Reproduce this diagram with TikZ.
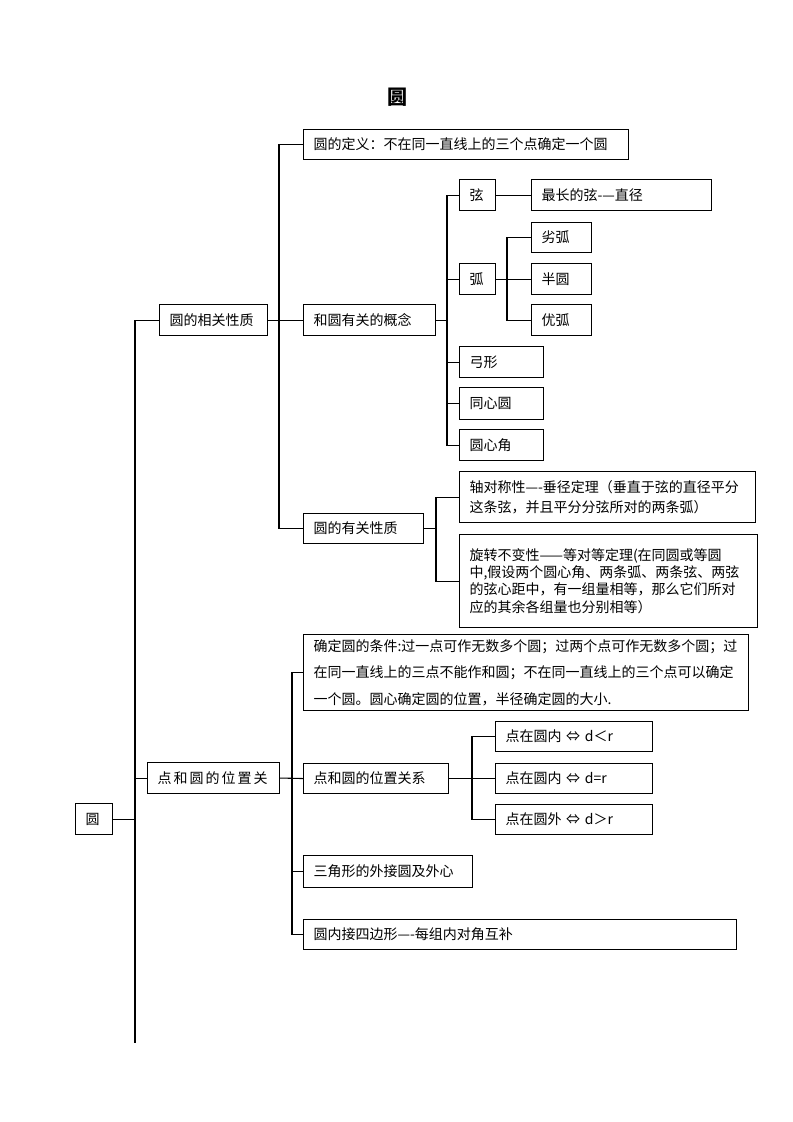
\documentclass[tikz,border=0pt]{standalone}
\usepackage{fontspec}
\newfontfamily\cjk{Noto Sans CJK SC}
\usepackage{tikz}

\begin{document}
\begin{tikzpicture}[x=0.75pt,y=-0.75pt,line width=0.8pt,
  box/.style 2 args = {draw, anchor=north west, text width=#1*0.75pt-15pt, minimum height=#2*0.75pt, inner xsep=7.5pt, inner ysep=0pt, align=left, font=\cjk\fontsize{10.5}{15}\selectfont}]
\useasboundingbox (0,0) rectangle (793,1122);
\node (t) at (397,97) {\cjk\fontsize{15}{18}\selectfont\bfseries 圆};
\node[box={37}{31}] (1) at (75,803) {圆};
\node[box={108}{31}] (2) at (159,304) {圆的相关性质};
\node[box={325}{30}] (3) at (303,129) {圆的定义：不在同一直线上的三个点确定一个圆};
\node[box={132}{31}] (4) at (303,304) {和圆有关的概念};
\node[box={36}{31}] (5) at (459,179) {弦};
\node[box={180}{31}] (6) at (531,179) {最长的弦-—直径};
\node[box={36}{31}] (7) at (459,263) {弧};
\node[box={60}{30}] (8) at (531,222) {劣弧};
\node[box={60}{31}] (9) at (531,263) {半圆};
\node[box={60}{31}] (10) at (531,304) {优弧};
\node[box={84}{31}] (11) at (459,346) {弓形};
\node[box={84}{32}] (12) at (459,387) {同心圆};
\node[box={84}{31}] (13) at (459,429) {圆心角};
\node[box={120}{30}] (14) at (303,513) {圆的有关性质};
\node[box={296}{51}] (15) at (459,471) {轴对称性—-垂径定理（垂直于弦的直径平分\\这条弦，并且平分分弦所对的两条弧）};
\node[box={298}{93}, font=\cjk\fontsize{10.5}{13}\selectfont] (16) at (459,534) {旋转不变性——等对等定理(在同圆或等圆\\中,假设两个圆心角、两条弧、两条弦、两弦\\的弦心距中，有一组量相等，那么它们所对\\应的其余各组量也分别相等）};
\node[box={132}{31}] (17) at (147,762) {点\hspace{1.5pt}和\hspace{1.5pt}圆\hspace{1.5pt}的\hspace{1.5pt}位\hspace{1.5pt}置\hspace{1.5pt}关};
\node[box={445}{76}, font=\cjk\fontsize{10.5}{20}\selectfont] (18) at (303,634) {确定圆的条件:过一点可作无数多个圆；过两个点可作无数多个圆；过\\在同一直线上的三点不能作和圆；不在同一直线上的三个点可以确定\\一个圆。圆心确定圆的位置，半径确定圆的大小.};
\node[box={145}{30}] (19) at (303,763) {点和圆的位置关系};
\node[box={157}{30}] (20) at (495,721) {点在圆内~⇔~d＜r};
\node[box={157}{30}] (21) at (495,763) {点在圆内~⇔~d=r};
\node[box={157}{30}] (22) at (495,804) {点在圆外~⇔~d＞r};
\node[box={169}{32}] (23) at (303,855) {三角形的外接圆及外心};
\node[box={433}{30}] (24) at (303,919) {圆内接四边形—-每组内对角互补};
\coordinate (e) at (135,1043);
\draw (1.east) -- (1.east -| e);
\draw (2.west) -| (e);
\draw (17.west) -- (17.west -| e);
\draw (2.east) -- (4.west);
\draw (3.west) -- ++(-24,0) |- (14.west);
\draw (4.east) -- ++(12,0);
\draw (5.west) -- ++(-12,0) |- (13.west);
\draw (7.west) -- ++(-12,0);
\draw (11.west) -- ++(-12,0);
\draw (12.west) -- ++(-12,0);
\draw (5.east) -- (6.west);
\draw (7.east) -- (9.west);
\draw (8.west) -- ++(-24,0) |- (10.west);
\draw (14.east) -- ++(13,0);
\draw (15.west) -- ++(-23,0) |- (16.west);
\draw (17.east) -- (19.west);
\draw (18.west) -- ++(-11,0) |- (24.west);
\draw (23.west) -- ++(-11,0);
\draw (19.east) -- (21.west);
\draw (20.west) -- ++(-23,0) |- (22.west);
\end{tikzpicture}
\end{document}
